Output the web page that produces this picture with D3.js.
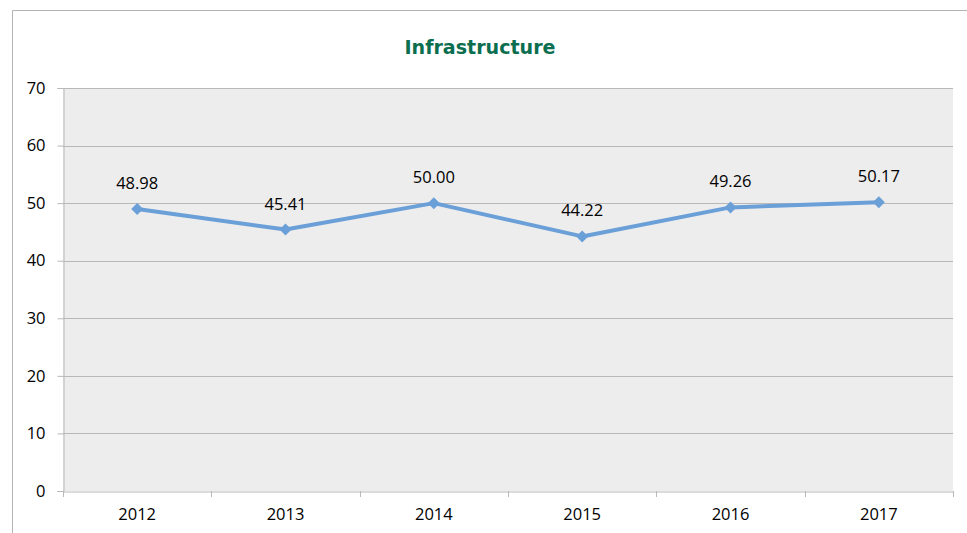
<!DOCTYPE html>
<html>
<head>
<meta charset="utf-8">
<script src="https://cdn.jsdelivr.net/npm/d3@7"></script>
<style>
  body { margin: 0; background: #fff; }
  svg { display: block; font-family: "Open Sans", "Liberation Sans", sans-serif; }
</style>
</head>
<body>
<div id="chart"></div>
<script>
var years = ['2012', '2013', '2014', '2015', '2016', '2017'];
var values = [48.98, 45.41, 50.00, 44.22, 49.26, 50.17];
var yTicks = [0, 10, 20, 30, 40, 50, 60, 70];

var width = 967, height = 533;
var margin = { top: 88, right: 14, bottom: 42, left: 63 };

var svg = d3.select('#chart').append('svg')
    .attr('width', width)
    .attr('height', height);

// chart frame
svg.append('path')
    .attr('d', 'M12.5,' + height + 'V10.5H' + width)
    .attr('fill', 'none')
    .attr('stroke', '#b3b3b3')
    .attr('stroke-width', 1);

var x = d3.scaleBand()
    .domain(years)
    .range([margin.left, width - margin.right]);

var y = d3.scaleLinear()
    .domain([0, 70])
    .range([height - margin.bottom, margin.top]);

// plot background
svg.append('rect')
    .attr('x', margin.left)
    .attr('y', margin.top)
    .attr('width', x.range()[1] - margin.left)
    .attr('height', y(0) - margin.top)
    .attr('fill', '#ededed');

// grid lines
svg.append('g')
    .selectAll('line')
    .data(yTicks.slice(1))
    .enter().append('line')
    .attr('x1', margin.left)
    .attr('x2', x.range()[1])
    .attr('y1', d => Math.round(y(d)) + 0.5)
    .attr('y2', d => Math.round(y(d)) + 0.5)
    .attr('stroke', '#b8b8b8');

// y axis
var yAxis = svg.append('g')
    .attr('transform', 'translate(' + (margin.left + 0.5) + ',0)')
    .call(d3.axisLeft(y).tickValues(yTicks).tickSize(6).tickPadding(12));
yAxis.select('.domain').attr('stroke', '#b8b8b8');
yAxis.selectAll('.tick line').attr('stroke', '#b8b8b8');
yAxis.selectAll('.tick text').attr('font-size', 16.5).attr('fill', '#000')
    .attr('font-family', '"Open Sans", sans-serif');

// x axis
var xAxis = svg.append('g')
    .attr('transform', 'translate(0,' + (Math.round(y(0)) + 0.5) + ')')
    .call(d3.axisBottom(x).tickSize(0).tickPadding(17));
xAxis.select('.domain').attr('stroke', '#b8b8b8');
xAxis.selectAll('.tick text').attr('font-size', 16.5).attr('fill', '#000')
    .attr('font-family', '"Open Sans", sans-serif');

// category boundary ticks
svg.append('g')
    .selectAll('line')
    .data(years.concat(['end']))
    .enter().append('line')
    .attr('x1', (d, i) => Math.round(margin.left + i * x.step()) + 0.5)
    .attr('x2', (d, i) => Math.round(margin.left + i * x.step()) + 0.5)
    .attr('y1', y(0))
    .attr('y2', y(0) + 6)
    .attr('stroke', '#b8b8b8');

var cx = d => x(d) + x.bandwidth() / 2;

// line
var line = d3.line()
    .x((d, i) => cx(years[i]))
    .y(d => y(d));

svg.append('path')
    .datum(values)
    .attr('d', line)
    .attr('fill', 'none')
    .attr('stroke', '#6a9fd8')
    .attr('stroke-width', 4)
    .attr('stroke-linejoin', 'round');

// markers (square turned 45 degrees)
svg.append('g')
    .selectAll('path')
    .data(values)
    .enter().append('path')
    .attr('d', d3.symbol().type(d3.symbolSquare).size(72))
    .attr('transform', (d, i) => 'translate(' + cx(years[i]) + ',' + y(d) + ') rotate(45)')
    .attr('fill', '#6a9fd8');

// data labels
svg.append('g')
    .selectAll('text')
    .data(values)
    .enter().append('text')
    .attr('x', (d, i) => cx(years[i]))
    .attr('y', d => y(d) - 20)
    .attr('text-anchor', 'middle')
    .attr('font-size', 16.5)
    .attr('fill', '#000')
    .text(d => d.toFixed(2));

// title
svg.append('text')
    .attr('x', 480)
    .attr('y', 54)
    .attr('text-anchor', 'middle')
    .attr('font-size', 19)
    .attr('font-weight', 'bold')
    .attr('font-family', '"DejaVu Sans", sans-serif')
    .attr('textLength', 151)
    .attr('lengthAdjust', 'spacingAndGlyphs')
    .attr('fill', '#0b6e4f')
    .text('Infrastructure');
</script>
</body>
</html>
